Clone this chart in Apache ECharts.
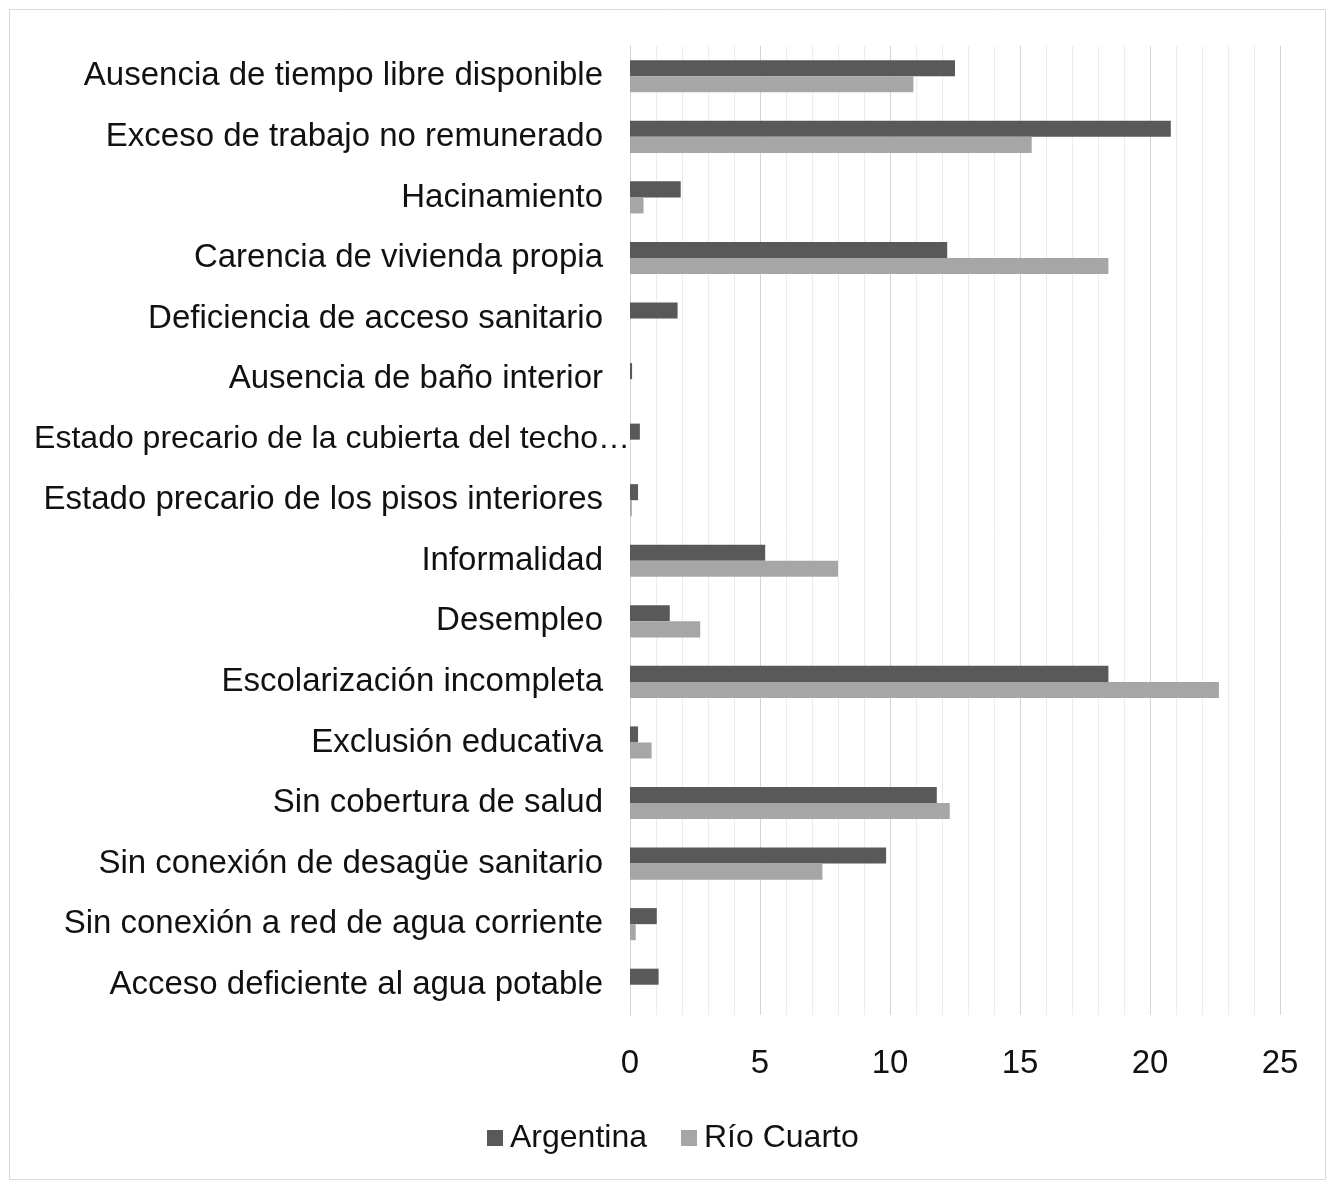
<!DOCTYPE html>
<html>
<head>
<meta charset="utf-8">
<script src="https://cdn.jsdelivr.net/npm/echarts@6/dist/echarts.min.js"></script>
<style>html,body{margin:0;padding:0;background:#fff;}#chart{width:1330px;height:1185px;}</style>
</head>
<body>
<div id="chart"></div>
<script>
const categories = [
  "Ausencia de tiempo libre disponible",
  "Exceso de trabajo no remunerado",
  "Hacinamiento",
  "Carencia de vivienda propia",
  "Deficiencia de acceso sanitario",
  "Ausencia de baño interior",
  "Estado precario de la cubierta del techo…",
  "Estado precario de los pisos interiores",
  "Informalidad",
  "Desempleo",
  "Escolarización incompleta",
  "Exclusión educativa",
  "Sin cobertura de salud",
  "Sin conexión de desagüe sanitario",
  "Sin conexión a red de agua corriente",
  "Acceso deficiente al agua potable"
];
const argentina = [12.5, 20.8, 1.95, 12.2, 1.83, 0.08, 0.38, 0.31, 5.2, 1.53, 18.4, 0.31, 11.8, 9.85, 1.03, 1.1];
const rioCuarto = [10.9, 15.45, 0.52, 18.4, 0, 0, 0, 0.07, 8.0, 2.7, 22.65, 0.83, 12.3, 7.4, 0.22, 0];
const seriesNames = ["Argentina", "Río Cuarto"];
const xTicks = { min: 0, max: 25, interval: 5 };

const chart = echarts.init(document.getElementById('chart'));
const font = '"Liberation Sans", Arial, sans-serif';
chart.setOption({
  backgroundColor: '#fff',
  animation: false,
  graphic: [{
    type: 'rect', left: 7, top: 7,
    shape: { width: 1316, height: 1170 },
    style: { fill: 'none', stroke: '#d9d9d9', lineWidth: 1 }
  }],
  grid: { left: 630, right: 50, top: 46, bottom: 170, containLabel: false, outerBoundsMode: 'none' },
  legend: {
    bottom: 26, left: 482,
    itemWidth: 16, itemHeight: 16, itemGap: 34,
    icon: 'rect',
    textStyle: { fontFamily: font, fontSize: 32, color: '#111', padding: [0, 0, 0, 2] },
    data: seriesNames
  },
  xAxis: {
    type: 'value', min: xTicks.min, max: xTicks.max, interval: xTicks.interval,
    axisLine: { show: false }, axisTick: { show: false },
    axisLabel: { fontFamily: font, fontSize: 33, color: '#111', margin: 32 },
    splitLine: { show: true, lineStyle: { color: '#d4d4d4', width: 1 } },
    minorTick: { show: false, splitNumber: 5 },
    minorSplitLine: { show: true, lineStyle: { color: '#ececec', width: 1 } }
  },
  yAxis: {
    type: 'category', inverse: true, data: categories,
    axisLine: { show: true, lineStyle: { color: '#d4d4d4' } },
    axisTick: { show: false },
    axisLabel: {
      fontFamily: font, fontSize: 33, color: '#111', margin: 27,
      formatter: function (v) { return v.endsWith('…') ? '{ov|' + v + '}' : v; },
      rich: { ov: { fontFamily: font, fontSize: 32, color: '#111', padding: [0, -27, 0, 0] } }
    }
  },
  series: [
    { name: seriesNames[0], type: 'bar', data: argentina, barGap: '0%', barCategoryGap: '47%',
      itemStyle: { color: '#595959' } },
    { name: seriesNames[1], type: 'bar', data: rioCuarto, barGap: '0%', barCategoryGap: '47%',
      itemStyle: { color: '#a6a6a6' } }
  ]
});
</script>
</body>
</html>
